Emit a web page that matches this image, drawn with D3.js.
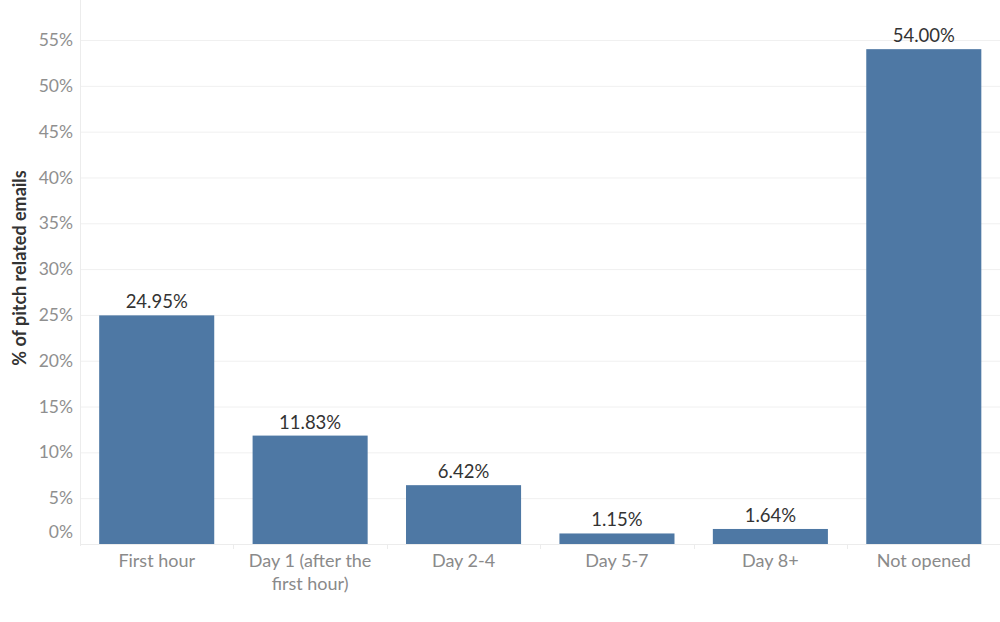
<!DOCTYPE html>
<html>
<head>
<meta charset="utf-8">
<script src="https://cdn.jsdelivr.net/npm/d3@7"></script>
<style>
  body { margin: 0; background: #fff; }
  svg text { font-family: Lato, "Open Sans", sans-serif; }
</style>
</head>
<body>
<div id="chart"></div>
<script>
// data
var categories = ["First hour", "Day 1 (after the first hour)", "Day 2-4", "Day 5-7", "Day 8+", "Not opened"];
var xLabelLines = [["First hour"], ["Day 1 (after the", "first hour)"], ["Day 2-4"], ["Day 5-7"], ["Day 8+"], ["Not opened"]];
var values = [24.95, 11.83, 6.42, 1.15, 1.64, 54.00];
var yTicks = [0, 5, 10, 15, 20, 25, 30, 35, 40, 45, 50, 55];

var width = 1000, height = 622;
var margin = { left: 80, right: 0, top: 0, bottom: 78 };

var svg = d3.select("#chart").append("svg")
    .attr("width", width)
    .attr("height", height);

var x = d3.scaleBand()
    .domain(categories)
    .range([margin.left, 1000.5])
    .paddingInner(0.25)
    .paddingOuter(0.125);

var y = d3.scaleLinear()
    .domain([0, 55])
    .range([544, 40]);

// gridlines
svg.append("g")
    .selectAll("line")
    .data(yTicks.filter(function(d) { return d > 0; }))
    .enter().append("line")
    .attr("x1", margin.left)
    .attr("x2", width)
    .attr("y1", function(d) { return y(d) + 0.5; })
    .attr("y2", function(d) { return y(d) + 0.5; })
    .attr("stroke", "#f0f0f0")
    .attr("stroke-width", 1);

// y axis line
svg.append("line")
    .attr("x1", margin.left + 0.5)
    .attr("x2", margin.left + 0.5)
    .attr("y1", 0)
    .attr("y2", 546)
    .attr("stroke", "#ececec");

// y tick labels
svg.append("g")
    .selectAll("text")
    .data(yTicks)
    .enter().append("text")
    .attr("x", 73)
    .attr("y", function(d) { return d == 0 ? y(d) - 12 : y(d); })
    .attr("dy", "0.35em")
    .attr("text-anchor", "end")
    .attr("font-size", 17.5)
    .attr("fill", "#8f8f8f")
    .text(function(d) { return d + "%"; });

// y axis title
svg.append("text")
    .attr("transform", "translate(26,268) rotate(-90)")
    .attr("text-anchor", "middle")
    .attr("font-size", 18)
    .attr("font-weight", "bold")
    .attr("fill", "#333")
    .text("% of pitch related emails");

// bars
svg.append("g")
    .selectAll("rect")
    .data(values)
    .enter().append("rect")
    .attr("x", function(d, i) { return x(categories[i]); })
    .attr("width", x.bandwidth())
    .attr("y", function(d) { return y(d); })
    .attr("height", function(d) { return y(0) - y(d); })
    .attr("fill", "#4e78a4");

// x baseline and separators
svg.append("line")
    .attr("x1", margin.left)
    .attr("x2", width)
    .attr("y1", 544.5)
    .attr("y2", 544.5)
    .attr("stroke", "#ececec");

svg.append("g")
    .selectAll("line")
    .data(categories.slice(1))
    .enter().append("line")
    .attr("x1", function(d) { return Math.round(x(d) - x.step() * 0.125) + 0.5; })
    .attr("x2", function(d) { return Math.round(x(d) - x.step() * 0.125) + 0.5; })
    .attr("y1", 544)
    .attr("y2", 549)
    .attr("stroke", "#ececec");

// value labels
svg.append("g")
    .selectAll("text")
    .data(values)
    .enter().append("text")
    .attr("x", function(d, i) { return x(categories[i]) + x.bandwidth() / 2; })
    .attr("y", function(d) { return y(d) - 7; })
    .attr("text-anchor", "middle")
    .attr("font-size", 18.5)
    .attr("fill", "#333")
    .text(function(d) { return d.toFixed(2) + "%"; });

// x labels
var xl = svg.append("g")
    .selectAll("text")
    .data(categories)
    .enter().append("text")
    .attr("x", function(d) { return x(d) + x.bandwidth() / 2; })
    .attr("y", 567)
    .attr("text-anchor", "middle")
    .attr("font-size", 18)
    .attr("fill", "#8a8a8a");

xl.each(function(d, i) {
    var t = d3.select(this);
    xLabelLines[i].forEach(function(line, j) {
        t.append("tspan")
            .attr("x", x(d) + x.bandwidth() / 2)
            .attr("dy", j == 0 ? 0 : 23)
            .text(line);
    });
});
</script>
</body>
</html>
